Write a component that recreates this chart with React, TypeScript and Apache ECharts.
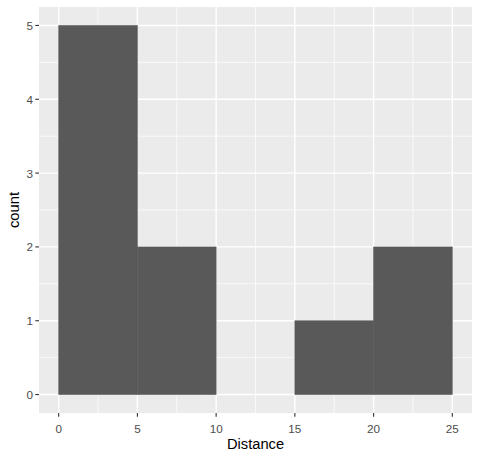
import React, { useEffect, useRef } from "react";
import * as echarts from "echarts";

const binStarts = [0, 5, 10, 15, 20];
const binEnds = [5, 10, 15, 20, 25];
const counts = [5, 2, 0, 1, 2];
const xTicks = [0, 5, 10, 15, 20, 25];
const xMinor = [2.5, 7.5, 12.5, 17.5, 22.5];
const yTicks = [0, 1, 2, 3, 4, 5];
const yMinor = [0.5, 1.5, 2.5, 3.5, 4.5];
const xTitle = "Distance";
const yTitle = "count";

const FONT = "'Liberation Sans', Arial, sans-serif";
const LABEL_COLOR = "#4D4D4D";

export default function App() {
  const ref = useRef<HTMLDivElement>(null);
  useEffect(() => {
    if (!ref.current) return;
    const chart = echarts.init(ref.current, undefined, { renderer: "svg" });
    const vLine = (lw: number, withTick: boolean) => (params: any, api: any) => {
      const v = api.value(0);
      const x = api.coord([v, 0])[0];
      const cs = params.coordSys;
      const children: any[] = [
        { type: "line", shape: { x1: x, y1: cs.y, x2: x, y2: cs.y + cs.height }, style: { stroke: "#FFFFFF", lineWidth: lw } },
      ];
      if (withTick) {
        children.push({ type: "line", shape: { x1: x, y1: cs.y + cs.height, x2: x, y2: cs.y + cs.height + 3.7 }, style: { stroke: "#333333", lineWidth: 1.1 } });
        children.push({ type: "text", x: x, y: cs.y + cs.height + 15, style: { text: String(v), fill: LABEL_COLOR, font: `11.7px ${FONT}`, align: "center", verticalAlign: "middle" } });
      }
      return { type: "group", children };
    };
    const hLine = (lw: number, withTick: boolean) => (params: any, api: any) => {
      const v = api.value(1);
      const y = api.coord([0, v])[1];
      const cs = params.coordSys;
      const children: any[] = [
        { type: "line", shape: { x1: cs.x, y1: y, x2: cs.x + cs.width, y2: y }, style: { stroke: "#FFFFFF", lineWidth: lw } },
      ];
      if (withTick) {
        children.push({ type: "line", shape: { x1: cs.x - 3.7, y1: y, x2: cs.x, y2: y }, style: { stroke: "#333333", lineWidth: 1.1 } });
        children.push({ type: "text", x: cs.x - 6, y: y, style: { text: String(v), fill: LABEL_COLOR, font: `11.7px ${FONT}`, align: "right", verticalAlign: "middle" } });
      }
      return { type: "group", children };
    };
    chart.setOption({
      animation: false,
      grid: { left: 39, right: 8, top: 7, bottom: 46, show: true, backgroundColor: "#EBEBEB", borderWidth: 0 },
      xAxis: { type: "value", min: -1.25, max: 26.25, show: false },
      yAxis: { type: "value", min: -0.25, max: 5.25, show: false },
      graphic: [
        { type: "text", x: 255.5, y: 444, style: { text: xTitle, fill: "#000000", font: `14.7px ${FONT}`, align: "center", verticalAlign: "middle" } },
        { type: "text", x: 14, y: 210, rotation: Math.PI / 2, style: { text: yTitle, fill: "#000000", font: `14.7px ${FONT}`, align: "center", verticalAlign: "middle" } },
      ],
      series: [
        { type: "custom", renderItem: vLine(0.7, false), data: xMinor.map((v) => [v, 0]), silent: true, z: 1 },
        { type: "custom", renderItem: hLine(0.7, false), data: yMinor.map((v) => [0, v]), silent: true, z: 1 },
        { type: "custom", renderItem: vLine(1.4, true), data: xTicks.map((v) => [v, 0]), silent: true, z: 2 },
        { type: "custom", renderItem: hLine(1.4, true), data: yTicks.map((v) => [0, v]), silent: true, z: 2 },
        {
          type: "custom",
          z: 3,
          silent: true,
          data: binStarts.map((s, i) => [s, binEnds[i], counts[i]]),
          renderItem: (params: any, api: any) => {
            const p0 = api.coord([api.value(0), 0]);
            const p1 = api.coord([api.value(1), api.value(2)]);
            if (api.value(2) === 0) return null;
            return { type: "rect", shape: { x: p0[0], y: p1[1], width: p1[0] - p0[0], height: p0[1] - p1[1] }, style: { fill: "#595959", stroke: "#595959", lineWidth: 0.6 } };
          },
        },
      ],
    });
    return () => chart.dispose();
  }, []);
  return <div ref={ref} style={{ position: "absolute", left: 0, top: 0, width: 480, height: 459 }} />;
}
